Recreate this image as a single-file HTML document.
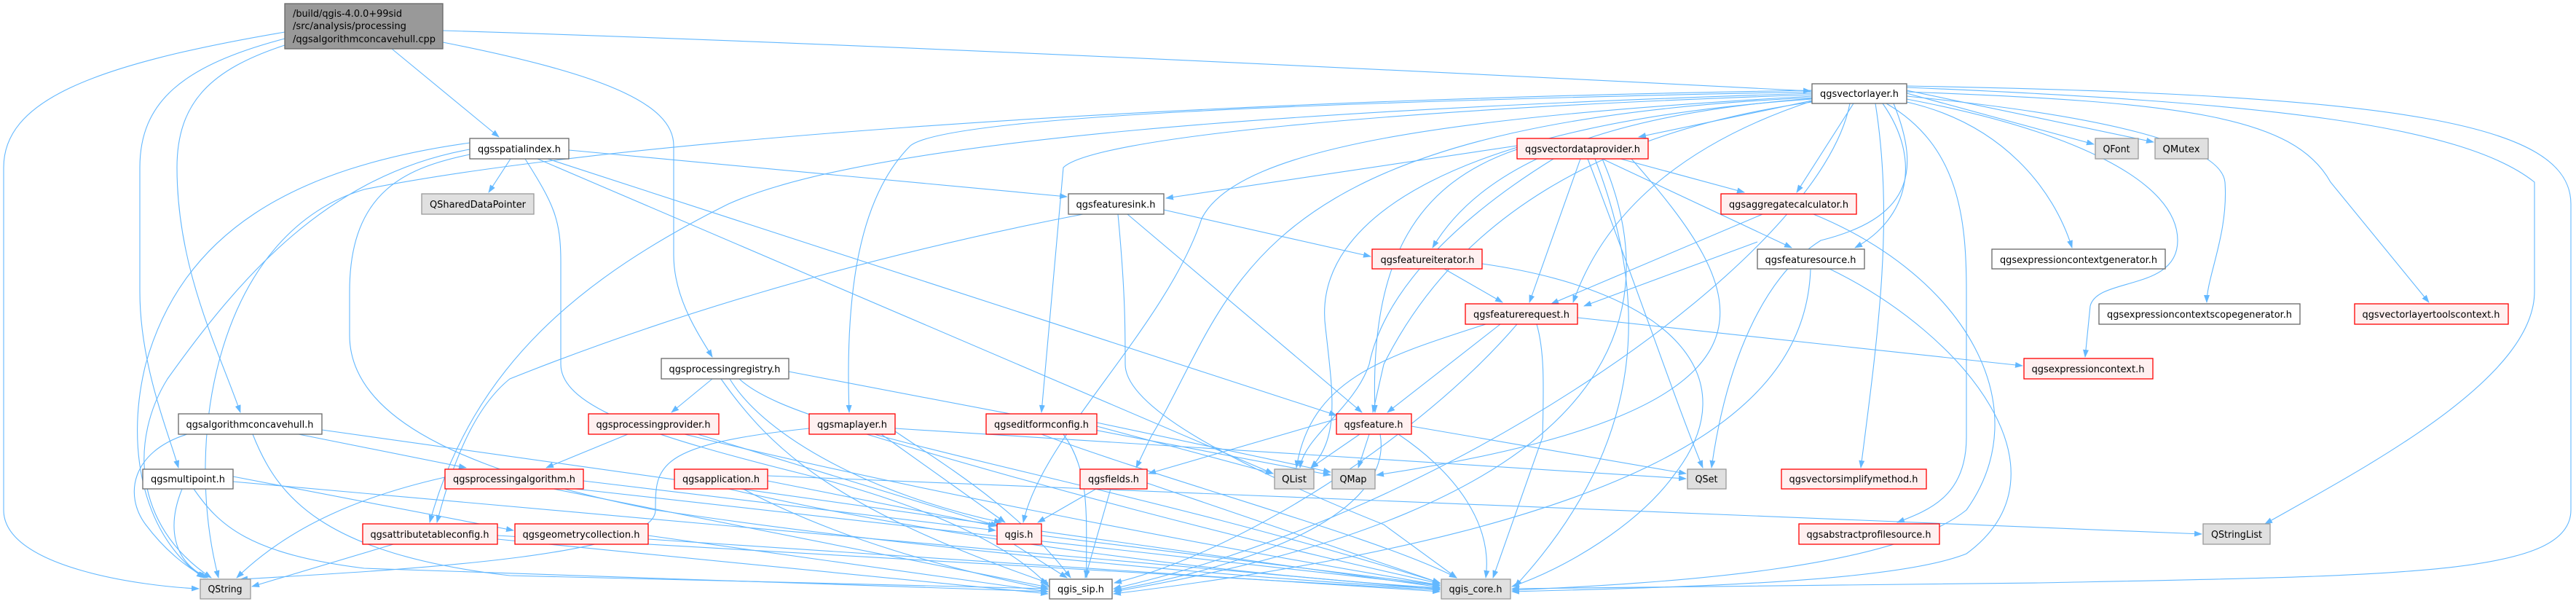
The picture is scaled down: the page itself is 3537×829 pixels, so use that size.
<!DOCTYPE html>
<html><head><meta charset="utf-8"><style>
html,body{margin:0;padding:0;background:#fff;}
svg{display:block}
text{font-family:"DejaVu Sans","Liberation Sans",sans-serif;font-size:13px;fill:#000}
</style></head><body>
<svg width="3537" height="829" viewBox="0 0 3537 829" xmlns="http://www.w3.org/2000/svg">
<defs>
<marker id="a" markerWidth="11" markerHeight="8" refX="10" refY="4" orient="auto" markerUnits="userSpaceOnUse">
<path d="M0,0 L11,4 L0,8 z" fill="#63b8ff"/></marker>
</defs>
<g fill="none" stroke="#63b8ff" stroke-width="1.1" marker-end="url(#a)">
<!-- root -->
<path d="M391,44 C120,90 5,140 5,230 L5,700 C5,780 200,805 273,808"/>
<path d="M391,53 C250,90 192,140 192,230 L192,400 C192,500 230,590 245,642"/>
<path d="M391,62 C290,95 243,140 243,230 C243,370 300,480 330,566"/>
<path d="M538,67 L685,188"/>
<path d="M608,58 C820,100 925,140 925,200 L925,350 C925,410 960,460 978,490"/>
<path d="M608,42 C1200,60 2000,100 2486,125"/>
<!-- spatialindex -->
<path d="M701,218 L671,264"/>
<path d="M645,196 C400,230 250,320 200,500 C170,620 200,740 280,793"/>
<path d="M645,205 C450,240 330,380 230,520 C180,600 180,720 290,793"/>
<path d="M645,212 C560,230 480,260 480,400 L480,460 C480,560 600,640 900,700 C1300,760 1800,800 1977,808"/>
<path d="M781,206 L1465,270"/>
<path d="M752,218 L1835,570"/>
<path d="M738,218 L1748,650"/>
<path d="M721,218 C760,280 770,300 770,360 L770,500 C770,560 900,600 1100,650 C1300,700 1400,760 1440,805"/>
<!-- concavehull -->
<path d="M257,596 C180,620 170,680 200,720 C230,760 260,780 282,793"/>
<path d="M410,596 L640,642"/>
<path d="M347,596 C380,680 440,760 700,790 L1439,808"/>
<path d="M442,590 L1977,806"/>
<!-- multipoint -->
<path d="M250,671 C230,720 235,770 285,793"/>
<path d="M266,671 C300,720 340,760 500,780 L1439,812"/>
<path d="M320,661 L1977,809"/>
<path d="M320,654 L705,728"/>
<!-- attributetableconfig -->
<path d="M540,747 L346,805"/>
<path d="M683,740 L1439,815"/>
<path d="M683,735 L1977,810"/>
<!-- processingalgorithm -->
<path d="M611,655 C500,680 400,720 325,793"/>
<path d="M801,660 L1367,728"/>
<path d="M790,671 L1977,804"/>
<path d="M760,671 L1439,806"/>
<!-- processingregistry -->
<path d="M978,520 L922,566"/>
<path d="M1002,520 C1050,600 1200,680 1375,717"/>
<path d="M1015,520 C1100,600 1500,650 1977,800"/>
<path d="M1083,510 L1827,652"/>
<path d="M990,520 C1060,620 1150,700 1439,800"/>
<!-- processingprovider -->
<path d="M862,596 L750,642"/>
<path d="M958,596 L1370,722"/>
<path d="M940,596 C1200,660 1600,740 1977,803"/>
<!-- maplayer -->
<path d="M1111,588 C900,610 900,640 900,700 C900,760 600,780 330,795"/>
<path d="M1210,596 L1380,717"/>
<path d="M1190,596 C1400,660 1700,740 1977,801"/>
<path d="M1229,588 L2315,657"/>
<path d="M1229,592 C1300,640 1400,700 1470,793"/>
<!-- application -->
<path d="M1054,653 L3023,733"/>
<path d="M1020,671 C1150,740 1300,780 1439,809"/>
<path d="M1000,671 C1300,740 1700,790 1977,807"/>
<path d="M1054,660 L1367,722"/>
<!-- geometrycollection -->
<path d="M890,735 L1439,812"/>
<path d="M890,740 L1977,812"/>
<!-- qgis.h -->
<path d="M1392,747 L1465,793"/>
<path d="M1430,735 L1977,803"/>
<!-- editformconfig -->
<path d="M1460,596 C1500,650 1490,720 1492,793"/>
<path d="M1430,596 C1600,660 1900,740 2000,793"/>
<path d="M1506,585 L1748,650"/>
<path d="M1506,580 L1827,648"/>
<!-- featuresink -->
<path d="M1548,294 L1870,566"/>
<path d="M1598,288 L1882,352"/>
<path d="M1535,294 C1545,400 1545,450 1545,500 C1545,560 1700,640 1900,720 L2000,793"/>
<path d="M1487,294 C1300,330 1000,400 700,520 C650,560 620,640 600,717"/>
<!-- featureiterator -->
<path d="M1983,369 L2063,415"/>
<path d="M2035,362 C2300,400 2400,520 2300,650 C2250,720 2150,780 2076,805"/>
<!-- featurerequest -->
<path d="M2060,445 L1905,566"/>
<path d="M2040,445 C1900,490 1800,520 1780,642"/>
<path d="M2166,436 L2777,502"/>
<path d="M2083,445 C1950,600 1700,760 1530,800"/>
<path d="M2110,445 C2120,480 2120,520 2118,600 L2050,793"/>
<!-- feature -->
<path d="M1835,575 L1577,650"/>
<path d="M1867,596 L1800,642"/>
<path d="M1880,596 L1865,642"/>
<path d="M1920,596 C2000,650 2050,720 2040,793"/>
<path d="M1895,596 C1910,680 1800,760 1530,810"/>
<path d="M1938,585 L2315,650"/>
<!-- fields -->
<path d="M1505,671 L1425,717"/>
<path d="M1525,671 L1490,793"/>
<path d="M1575,663 L1977,800"/>
<!-- vectordataprovider -->
<path d="M2083,200 L1601,272"/>
<path d="M2170,218 L2100,415"/>
<path d="M2225,218 L2395,264"/>
<path d="M2200,218 L2460,340"/>
<path d="M2180,218 C2250,400 2300,550 2338,642"/>
<path d="M2133,218 C2000,300 1900,400 1880,500 C1860,560 1790,600 1785,642"/>
<path d="M2083,205 C1950,250 1880,350 1888,566"/>
<path d="M2190,218 C2260,400 2270,600 2080,805"/>
<path d="M2200,218 C2300,450 2200,700 1529,812"/>
<path d="M2240,218 C2400,400 2500,560 1890,652"/>
<!-- aggregatecalculator -->
<path d="M2420,294 L2130,417"/>
<path d="M2490,294 C2700,380 2800,560 2700,700 C2600,780 2300,800 2076,810"/>
<!-- featuresource -->
<path d="M2413,332 L2175,420"/>
<path d="M2486,369 C2480,550 2300,720 1529,815"/>
<path d="M2512,369 C2700,460 2850,650 2700,760 C2600,800 2300,806 2076,812"/>
<!-- vectorlayer -->
<path d="M2488,138 L2250,188"/>
<path d="M2545,142 L2467,264"/>
<path d="M2585,142 C2640,220 2620,300 2547,340"/>
<path d="M2618,128 L2875,198"/>
<path d="M2618,124 L2957,195"/>
<path d="M2618,140 C2750,170 2820,260 2845,340"/>
<path d="M2618,132 C2900,160 3050,200 3055,250 C3060,320 3030,380 3030,415"/>
<path d="M2618,126 C3000,140 3150,160 3200,250 L3335,415"/>
<path d="M2618,120 C3100,140 3380,170 3480,250 L3480,400 C3480,520 3250,640 3110,719"/>
<path d="M2618,118 C3300,130 3530,170 3530,280 L3530,700 C3530,790 3300,790 2800,800 L2076,808"/>
<path d="M2618,136 C2850,180 2990,250 2990,330 C2990,400 2880,380 2870,420 L2863,490"/>
<path d="M2600,142 C2640,240 2620,300 2500,330 C2420,380 2370,500 2350,642"/>
<path d="M2575,142 C2600,300 2580,450 2555,642"/>
<path d="M2590,142 C2690,200 2700,300 2700,400 L2700,600 C2700,680 2650,700 2605,717"/>
<path d="M2490,138 C2300,200 2200,300 2160,415"/>
<path d="M2490,135 C2150,160 2020,250 1967,340"/>
<path d="M2488,126 C1800,140 1300,160 1250,200 C1180,270 1160,400 1166,566"/>
<path d="M2488,130 C1900,150 1500,190 1460,230 L1430,566"/>
<path d="M2488,128 C1800,150 1200,190 1000,280 C800,380 650,500 590,717"/>
<path d="M2488,132 C2000,160 1700,200 1650,300 C1600,450 1430,600 1405,717"/>
<path d="M2488,124 C1500,140 800,200 500,260 C300,320 250,600 300,793"/>
<path d="M2488,136 C2000,170 1800,300 1820,450 C1830,540 1840,600 1800,642"/>
<path d="M2488,140 C2200,180 2000,300 1900,500 L1885,566"/>
<path d="M2488,134 C1700,170 1700,400 1580,600 L1560,642"/>
<path d="M2540,142 C2500,350 2000,700 1529,808"/>
</g>
<g stroke-width="1.3">
<rect x="391" y="5" width="217" height="62" fill="#999999" stroke="#666"/>
<g fill="#fff" stroke="#666">
<rect x="645" y="190" width="136" height="28"/>
<rect x="245" y="568" width="197" height="28"/>
<rect x="196" y="644" width="124" height="27"/>
<rect x="908" y="492" width="175" height="28"/>
<rect x="1467" y="266" width="131" height="28"/>
<rect x="1441" y="795" width="86" height="27"/>
<rect x="2488" y="115" width="130" height="27"/>
<rect x="2413" y="342" width="147" height="27"/>
<rect x="2735" y="342" width="238" height="27"/>
<rect x="2882" y="417" width="276" height="28"/>
</g>
<g fill="#e0e0e0" stroke="#999">
<rect x="579" y="266" width="154" height="28"/>
<rect x="275" y="795" width="69" height="27"/>
<rect x="1750" y="644" width="54" height="27"/>
<rect x="1829" y="644" width="59" height="27"/>
<rect x="1979" y="795" width="95" height="27"/>
<rect x="2317" y="644" width="53" height="27"/>
<rect x="2877" y="190" width="59" height="28"/>
<rect x="2959" y="190" width="73" height="28"/>
<rect x="3025" y="719" width="92" height="28"/>
</g>
<g fill="#fff0f0" stroke="#ff0000">
<rect x="498" y="719" width="185" height="28"/>
<rect x="611" y="644" width="190" height="27"/>
<rect x="808" y="568" width="179" height="28"/>
<rect x="1111" y="568" width="118" height="28"/>
<rect x="926" y="644" width="128" height="27"/>
<rect x="707" y="719" width="183" height="28"/>
<rect x="1369" y="719" width="61" height="28"/>
<rect x="1354" y="568" width="152" height="28"/>
<rect x="1884" y="342" width="151" height="27"/>
<rect x="2012" y="417" width="154" height="28"/>
<rect x="1835" y="568" width="103" height="28"/>
<rect x="1483" y="644" width="92" height="27"/>
<rect x="2083" y="190" width="180" height="28"/>
<rect x="2363" y="266" width="186" height="28"/>
<rect x="2446" y="644" width="199" height="27"/>
<rect x="2470" y="719" width="193" height="28"/>
<rect x="2779" y="492" width="177" height="28"/>
<rect x="3233" y="417" width="211" height="28"/>
</g>
</g>
<g text-anchor="middle" lengthAdjust="spacingAndGlyphs">
<text x="402" y="23" text-anchor="start" textLength="150" lengthAdjust="spacingAndGlyphs">/build/qgis-4.0.0+99sid</text>
<text x="402" y="40" text-anchor="start" textLength="156" lengthAdjust="spacingAndGlyphs">/src/analysis/processing</text>
<text x="402" y="58" text-anchor="start" textLength="196" lengthAdjust="spacingAndGlyphs">/qgsalgorithmconcavehull.cpp</text>
<text x="713" y="209" textLength="114" lengthAdjust="spacingAndGlyphs">qgsspatialindex.h</text>
<text x="656" y="285" textLength="132" lengthAdjust="spacingAndGlyphs">QSharedDataPointer</text>
<text x="343" y="587" textLength="175" lengthAdjust="spacingAndGlyphs">qgsalgorithmconcavehull.h</text>
<text x="258" y="662" textLength="102" lengthAdjust="spacingAndGlyphs">qgsmultipoint.h</text>
<text x="309" y="813" textLength="47" lengthAdjust="spacingAndGlyphs">QString</text>
<text x="590" y="738" textLength="163" lengthAdjust="spacingAndGlyphs">qgsattributetableconfig.h</text>
<text x="706" y="662" textLength="168" lengthAdjust="spacingAndGlyphs">qgsprocessingalgorithm.h</text>
<text x="995" y="511" textLength="153" lengthAdjust="spacingAndGlyphs">qgsprocessingregistry.h</text>
<text x="897" y="587" textLength="157" lengthAdjust="spacingAndGlyphs">qgsprocessingprovider.h</text>
<text x="1170" y="587" textLength="96" lengthAdjust="spacingAndGlyphs">qgsmaplayer.h</text>
<text x="990" y="662" textLength="106" lengthAdjust="spacingAndGlyphs">qgsapplication.h</text>
<text x="798" y="738" textLength="161" lengthAdjust="spacingAndGlyphs">qgsgeometrycollection.h</text>
<text x="1399" y="738" textLength="39" lengthAdjust="spacingAndGlyphs">qgis.h</text>
<text x="1430" y="587" textLength="130" lengthAdjust="spacingAndGlyphs">qgseditformconfig.h</text>
<text x="1532" y="285" textLength="109" lengthAdjust="spacingAndGlyphs">qgsfeaturesink.h</text>
<text x="1960" y="361" textLength="129" lengthAdjust="spacingAndGlyphs">qgsfeatureiterator.h</text>
<text x="2089" y="436" textLength="132" lengthAdjust="spacingAndGlyphs">qgsfeaturerequest.h</text>
<text x="1886" y="587" textLength="81" lengthAdjust="spacingAndGlyphs">qgsfeature.h</text>
<text x="1777" y="662" textLength="34" lengthAdjust="spacingAndGlyphs">QList</text>
<text x="1858" y="662" textLength="37" lengthAdjust="spacingAndGlyphs">QMap</text>
<text x="1529" y="662" textLength="70" lengthAdjust="spacingAndGlyphs">qgsfields.h</text>
<text x="1484" y="813" textLength="64" lengthAdjust="spacingAndGlyphs">qgis_sip.h</text>
<text x="2026" y="813" textLength="73" lengthAdjust="spacingAndGlyphs">qgis_core.h</text>
<text x="2173" y="209" textLength="158" lengthAdjust="spacingAndGlyphs">qgsvectordataprovider.h</text>
<text x="2553" y="133" textLength="108" lengthAdjust="spacingAndGlyphs">qgsvectorlayer.h</text>
<text x="2456" y="285" textLength="164" lengthAdjust="spacingAndGlyphs">qgsaggregatecalculator.h</text>
<text x="2486" y="361" textLength="125" lengthAdjust="spacingAndGlyphs">qgsfeaturesource.h</text>
<text x="2343" y="662" textLength="31" lengthAdjust="spacingAndGlyphs">QSet</text>
<text x="2545" y="662" textLength="177" lengthAdjust="spacingAndGlyphs">qgsvectorsimplifymethod.h</text>
<text x="2566" y="738" textLength="171" lengthAdjust="spacingAndGlyphs">qgsabstractprofilesource.h</text>
<text x="2854" y="361" textLength="216" lengthAdjust="spacingAndGlyphs">qgsexpressioncontextgenerator.h</text>
<text x="2867" y="511" textLength="155" lengthAdjust="spacingAndGlyphs">qgsexpressioncontext.h</text>
<text x="2906" y="209" textLength="37" lengthAdjust="spacingAndGlyphs">QFont</text>
<text x="2995" y="209" textLength="51" lengthAdjust="spacingAndGlyphs">QMutex</text>
<text x="3020" y="436" textLength="254" lengthAdjust="spacingAndGlyphs">qgsexpressioncontextscopegenerator.h</text>
<text x="3338" y="436" textLength="189" lengthAdjust="spacingAndGlyphs">qgsvectorlayertoolscontext.h</text>
<text x="3071" y="738" textLength="70" lengthAdjust="spacingAndGlyphs">QStringList</text>
</g>
</svg>
</body></html>
